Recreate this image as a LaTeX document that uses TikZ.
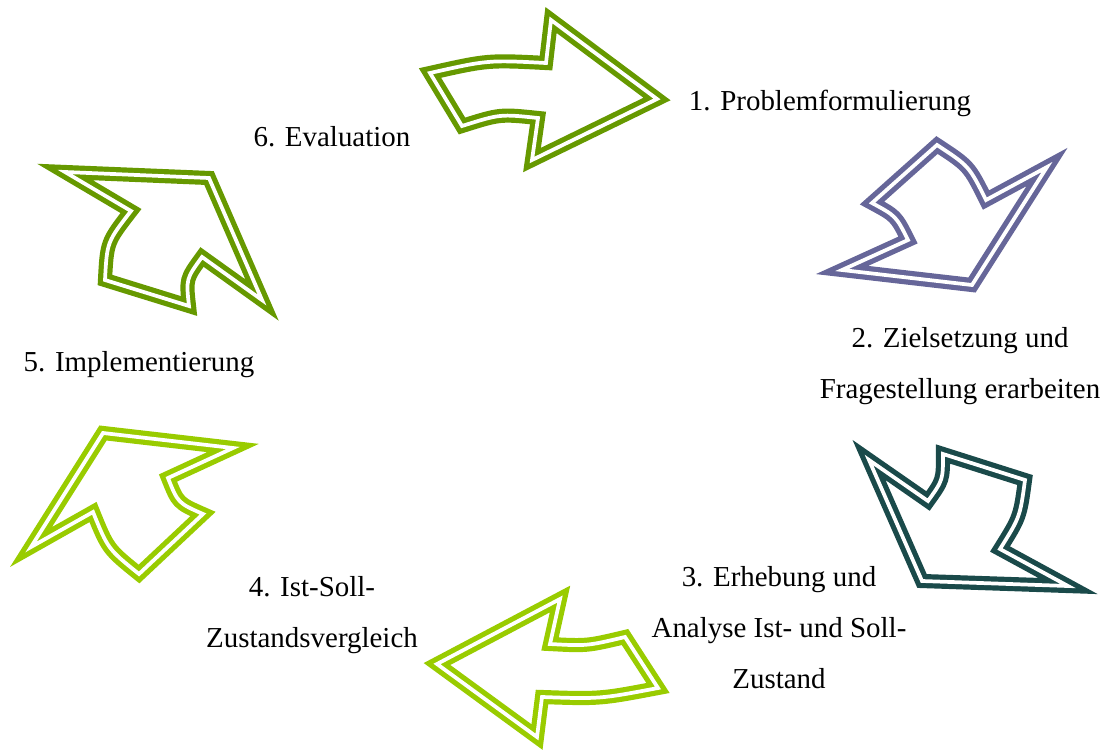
\documentclass[tikz,border=0pt]{standalone}
\usepackage{fontspec}
\setmainfont{Liberation Serif}
\definecolor{darkgreen}{RGB}{102,153,0}
\definecolor{lightgreen}{RGB}{153,204,0}
\definecolor{slateblue}{RGB}{102,102,153}
\definecolor{darkteal}{RGB}{26,74,74}
\tikzset{
  ringarrow/.style={draw=#1, double=white, line width=3.9pt, double distance=2.8pt, line join=miter},
  steplabel/.style={font=\fontsize{21.7}{38.3}\selectfont, align=center, inner sep=0pt}
}
\begin{document}
\begin{tikzpicture}[x=0.75pt,y=-0.75pt]
  \useasboundingbox (0,0) rectangle (1112,749);
  % arrows, clockwise from the top
  \draw[ringarrow=darkgreen] (430,73) .. controls (488,60) .. (546,63) -- (551,20) -- (657,99) -- (532,160) -- (538,118) .. controls (500,114) .. (462,126) -- cycle;
  \draw[ringarrow=slateblue] (937,145) .. controls (969,166) .. (986,200) -- (1047,167) -- (972,285) -- (842,270) -- (908,240) .. controls (896,216) .. (872,203) -- cycle;
  \draw[ringarrow=darkteal] (869,460) -- (928,501) .. controls (943,480) .. (943,454) -- (1025,480) .. controls (1020,517) .. (1000,549) -- (1068,586) -- (922,581) -- cycle;
  \draw[ringarrow=lightgreen] (560,599) -- (437,664) -- (537,737) -- (542,697) .. controls (600,699) .. (658,688) -- (625,637) .. controls (587,646) .. (550,644) -- cycle;
  \draw[ringarrow=lightgreen] (103,433) -- (233,448) -- (168,478) .. controls (178,503) .. (203,514) -- (139,574) .. controls (108,549) .. (93,512) -- (31,547) -- cycle;
  \draw[ringarrow=darkgreen] (65,172) -- (209,178) -- (262,300) -- (202,257) .. controls (186,279) .. (189,306) -- (105,280) .. controls (107,242) .. (131,211) -- cycle;
  % labels
  \node[steplabel] (problem) at (830,103) {1. Problemformulierung};
  \node[steplabel] (ziel) at (960,366) {2. Zielsetzung und\\Fragestellung erarbeiten};
  \node[steplabel] (erhebung) at (779,628) {3. Erhebung und\\Analyse Ist- und Soll-\\Zustand};
  \node[steplabel] (vergleich) at (312,615) {4. Ist-Soll-\\Zustandsvergleich};
  \node[steplabel] (implement) at (139,365) {5. Implementierung};
  \node[steplabel] (evaluation) at (332,137) {6. Evaluation};
\end{tikzpicture}
\end{document}
